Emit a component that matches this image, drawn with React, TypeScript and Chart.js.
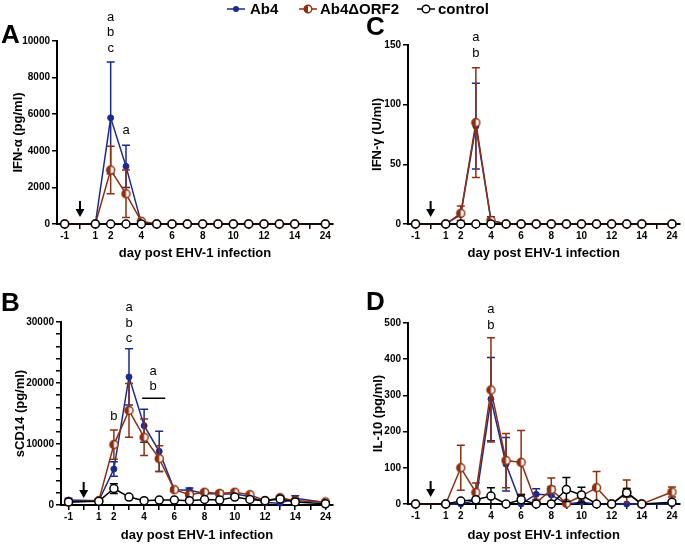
import React, { useEffect, useRef } from 'react';
import { Chart, registerables } from 'chart.js';

Chart.register(...registerables);

const FONT = '"Liberation Sans", Arial, Helvetica, sans-serif';
const BLUE = '#1b2a8e';
const BROWN = '#8e2f10';
const BLACK = '#000000';

// x categories (0 = inoculation arrow, 15 = axis gap before day 24)
const DAYS = ['-1', '0', '1', '2', '3', '4', '5', '6', '7', '8', '9', '10', '11', '12', '13', '14', '15', '24'];
const SHOWN_DAYS = ['-1', '1', '2', '4', '6', '8', '10', '12', '14', '24'];
const ARROW_DAY = '0';
const X_TITLE = 'day post EHV-1 infection';

// Panel A: IFN-alpha (pg/ml)
const A_AB4 = [0, null, 0, 5800, 3150, 50, 0, 0, 0, 0, 0, 0, 0, 0, 0, 0, null, 0];
const A_AB4_SEM = [0, null, 0, 3050, 1150, 0, 0, 0, 0, 0, 0, 0, 0, 0, 0, 0, null, 0];
const A_ORF2 = [0, null, 0, 2950, 1650, 150, 0, 0, 0, 0, 0, 0, 0, 0, 0, 0, null, 0];
const A_ORF2_SEM = [0, null, 0, 1300, 1300, 0, 0, 0, 0, 0, 0, 0, 0, 0, 0, 0, null, 0];
const A_CTRL = [0, null, 0, 0, 0, 0, 0, 0, 0, 0, 0, 0, 0, 0, 0, 0, null, 0];
const A_CTRL_SEM = [0, null, 0, 0, 0, 0, 0, 0, 0, 0, 0, 0, 0, 0, 0, 0, null, 0];
const A_NOTES = [
  { day: '2', value: 9600, text: ['a', 'b', 'c'] },
  { day: '3', value: 5100, text: ['a'] },
];

// Panel C: IFN-gamma (U/ml)
const C_AB4 = [0, null, 0, 8, 82, 3, 0, 0, 0, 0, 0, 0, 0, 0, 0, 0, null, 0];
const C_AB4_SEM = [0, null, 0, 0, 36, 3, 0, 0, 0, 0, 0, 0, 0, 0, 0, 0, null, 0];
const C_ORF2 = [0, null, 0, 9, 85, 3, 0, 0, 0, 0, 0, 0, 0, 0, 0, 0, null, 0];
const C_ORF2_SEM = [0, null, 0, 6, 46, 0, 0, 0, 0, 0, 0, 0, 0, 0, 0, 0, null, 0];
const C_CTRL = [0, null, 0, 0, 0, 0, 0, 0, 0, 0, 0, 0, 0, 0, 0, 0, null, 0];
const C_CTRL_SEM = [0, null, 0, 0, 0, 0, 0, 0, 0, 0, 0, 0, 0, 0, 0, 0, null, 0];
const C_NOTES = [{ day: '3', value: 143, text: ['a', 'b'] }];

// Panel B: sCD14 (pg/ml)
const B_AB4 = [800, null, 700, 5900, 21000, 13000, 8800, 2500, 2400, 1900, 1800, 1800, 1400, 400, 300, 1100, null, 400];
const B_AB4_SEM = [300, null, 0, 1200, 4600, 2700, 3300, 0, 400, 0, 300, 200, 0, 0, 0, 400, null, 0];
const B_ORF2 = [500, null, 700, 9900, 15500, 11100, 7600, 2500, 1700, 2100, 1900, 2100, 1700, 700, 1200, 700, null, 500];
const B_ORF2_SEM = [0, null, 0, 2400, 4400, 3000, 2100, 300, 300, 300, 400, 300, 200, 0, 200, 0, null, 0];
const B_CTRL = [500, null, 600, 2700, 1300, 700, 800, 800, 700, 900, 800, 1300, 900, 700, 1000, 500, null, 200];
const B_CTRL_SEM = [0, null, 0, 800, 0, 0, 0, 0, 0, 0, 0, 0, 0, 0, 0, 0, null, 0];
const B_NOTES = [
  { day: '3', value: 27300, text: ['a', 'b', 'c'] },
  { day: '2', value: 14600, text: ['b'] },
  { day: '4', value: 19400, text: ['a', 'b'], shift: 0.6 },
];
const B_BRACKETS = [{ from: '4', to: '5', value: 17500 }];

// Panel D: IL-10 (pg/ml)
const D_AB4 = [0, null, 0, 0, 10, 290, 110, 0, 27, 25, 0, 5, 0, 0, 0, 0, null, 0];
const D_AB4_SEM = [0, null, 0, 0, 0, 115, 74, 0, 15, 23, 0, 0, 0, 0, 0, 0, null, 0];
const D_ORF2 = [0, null, 0, 100, 32, 315, 120, 115, 3, 40, 2, 22, 45, 0, 33, 0, null, 33];
const D_ORF2_SEM = [0, null, 0, 62, 26, 144, 75, 88, 0, 32, 0, 0, 45, 0, 33, 0, null, 14];
const D_CTRL = [0, null, 0, 8, 12, 22, 0, 12, 0, 0, 40, 25, 0, 0, 31, 0, null, 5];
const D_CTRL_SEM = [0, null, 0, 0, 0, 23, 0, 13, 0, 0, 33, 21, 0, 0, 12, 0, null, 0];
const D_NOTES = [{ day: '4', value: 494, text: ['a', 'b'] }];

type Note = { day: string; value: number; text: string[]; shift?: number };
type Bracket = { from: string; to: string; value: number };

function halfCircle(color: string, r: number) {
  const c = document.createElement('canvas');
  const s = Math.ceil(r * 2 + 3);
  c.width = s;
  c.height = s;
  const ctx = c.getContext('2d')!;
  const cx = s / 2;
  const cy = s / 2;
  ctx.beginPath();
  ctx.arc(cx, cy, r, 0, Math.PI * 2);
  ctx.fillStyle = '#ffffff';
  ctx.fill();
  ctx.beginPath();
  ctx.moveTo(cx, cy - r);
  ctx.arc(cx, cy, r, -Math.PI / 2, Math.PI / 2, true);
  ctx.closePath();
  ctx.fillStyle = color;
  ctx.fill();
  ctx.beginPath();
  ctx.arc(cx, cy, r, 0, Math.PI * 2);
  ctx.lineWidth = 1.5;
  ctx.strokeStyle = color;
  ctx.stroke();
  return c;
}

function makeErrorBars(errs: (number | null)[][]) {
  return {
    id: 'errorBars',
    beforeDatasetDraw(chart: any, args: any) {
      const e = errs[args.index];
      if (!e) return;
      const ds = chart.data.datasets[args.index];
      const y = chart.scales.y;
      const ctx = chart.ctx;
      ctx.save();
      ctx.strokeStyle = ds.borderColor;
      ctx.lineWidth = 1.5;
      args.meta.data.forEach((pt: any, i: number) => {
        const v = ds.data[i];
        const d = e[i];
        if (v == null || !d) return;
        const top = y.getPixelForValue(v + d);
        const low = Math.max(0, v - d);
        const bot = y.getPixelForValue(low);
        ctx.beginPath();
        ctx.moveTo(pt.x, top);
        ctx.lineTo(pt.x, bot);
        ctx.moveTo(pt.x - 4, top);
        ctx.lineTo(pt.x + 4, top);
        if (low > 0) {
          ctx.moveTo(pt.x - 4, bot);
          ctx.lineTo(pt.x + 4, bot);
        }
        ctx.stroke();
      });
      ctx.restore();
    },
  };
}

function makeDecor(notes: Note[], brackets: Bracket[]) {
  return {
    id: 'decor',
    afterDraw(chart: any) {
      const { ctx, scales } = chart;
      const x = scales.x;
      const y = scales.y;
      const bottom = chart.chartArea.bottom;
      ctx.save();
      // inoculation arrow
      const ax = x.getPixelForValue(DAYS.indexOf(ARROW_DAY));
      ctx.strokeStyle = BLACK;
      ctx.fillStyle = BLACK;
      ctx.lineWidth = 2;
      ctx.beginPath();
      ctx.moveTo(ax, bottom - 23);
      ctx.lineTo(ax, bottom - 14);
      ctx.stroke();
      ctx.beginPath();
      ctx.moveTo(ax - 4.5, bottom - 15);
      ctx.lineTo(ax + 4.5, bottom - 15);
      ctx.lineTo(ax, bottom - 7);
      ctx.closePath();
      ctx.fill();
      // significance letters
      ctx.font = `13px ${FONT}`;
      ctx.textAlign = 'center';
      ctx.textBaseline = 'middle';
      notes.forEach((n) => {
        const px = x.getPixelForValue(DAYS.indexOf(n.day) + (n.shift || 0));
        const py = y.getPixelForValue(n.value);
        const k = n.text.length;
        n.text.forEach((t, i) => {
          ctx.fillText(t, px, py - (k - 1 - i) * 15.5);
        });
      });
      ctx.lineWidth = 1.5;
      brackets.forEach((b) => {
        const x1 = x.getPixelForValue(DAYS.indexOf(b.from)) - 2;
        const x2 = x.getPixelForValue(DAYS.indexOf(b.to)) + 6;
        const py = y.getPixelForValue(b.value);
        ctx.beginPath();
        ctx.moveTo(x1, py);
        ctx.lineTo(x2, py);
        ctx.stroke();
      });
      ctx.restore();
    },
  };
}

type PanelSpec = {
  ab4: (number | null)[];
  ab4Sem: (number | null)[];
  orf2: (number | null)[];
  orf2Sem: (number | null)[];
  ctrl: (number | null)[];
  ctrlSem: (number | null)[];
  yTitle: string;
  max: number;
  step: number;
  labelEvery: number;
  yWidth: number;
  yTitlePad: number;
  xHeight: number;
  xTitlePad: number;
  padTop: number;
  padRight: number;
  notes: Note[];
  brackets?: Bracket[];
};

function makeConfig(p: PanelSpec): any {
  const tickFont = { family: FONT, size: 10, weight: 'bold' as const };
  const titleFont = { family: FONT, size: 13, weight: 'bold' as const };
  const half = halfCircle(BROWN, 4);
  return {
    type: 'line',
    data: {
      labels: DAYS,
      datasets: [
        {
          label: 'Ab4',
          data: p.ab4,
          borderColor: BLUE,
          backgroundColor: BLUE,
          pointBackgroundColor: BLUE,
          pointBorderColor: BLUE,
          pointRadius: 3,
          pointBorderWidth: 1,
          borderWidth: 1.5,
          order: 3,
          clip: false,
        },
        {
          label: 'Ab4ΔORF2',
          data: p.orf2,
          borderColor: BROWN,
          backgroundColor: BROWN,
          pointStyle: half,
          pointRadius: 4,
          borderWidth: 1.5,
          order: 2,
          clip: false,
        },
        {
          label: 'control',
          data: p.ctrl,
          borderColor: BLACK,
          backgroundColor: '#ffffff',
          pointBackgroundColor: '#ffffff',
          pointBorderColor: BLACK,
          pointRadius: 4,
          pointBorderWidth: 1.5,
          borderWidth: 1.5,
          order: 1,
          clip: false,
        },
      ],
    },
    options: {
      animation: false,
      responsive: false,
      spanGaps: true,
      events: [],
      layout: { padding: { top: p.padTop, right: p.padRight, left: 0, bottom: 0 } },
      plugins: {
        legend: { display: false },
        tooltip: { enabled: false },
      },
      scales: {
        x: {
          type: 'category',
          offset: true,
          grid: { display: true, drawOnChartArea: false, drawTicks: true, tickLength: 5, color: BLACK, lineWidth: 1.5 },
          border: { display: true, color: BLACK, width: 2 },
          ticks: {
            autoSkip: false,
            maxRotation: 0,
            padding: 1,
            color: BLACK,
            font: tickFont,
            callback: (_v: any, i: number) => (SHOWN_DAYS.includes(DAYS[i]) ? DAYS[i] : ''),
          },
          title: { display: true, text: X_TITLE, color: BLACK, font: titleFont, padding: { top: 0, bottom: p.xTitlePad } },
          afterFit: (s: any) => {
            s.height = p.xHeight;
          },
        },
        y: {
          min: 0,
          max: p.max,
          grid: { display: true, drawOnChartArea: false, drawTicks: true, tickLength: 5, color: BLACK, lineWidth: 1.5 },
          border: { display: true, color: BLACK, width: 2 },
          ticks: {
            stepSize: p.step,
            autoSkip: false,
            padding: 2,
            color: BLACK,
            font: tickFont,
            callback: (v: any) => (Math.round(v) % p.labelEvery === 0 ? String(v) : ''),
          },
          title: { display: true, text: p.yTitle, color: BLACK, font: titleFont, padding: { top: p.yTitlePad, bottom: 0 } },
          afterFit: (s: any) => {
            s.width = p.yWidth;
          },
        },
      },
    },
    plugins: [makeErrorBars([p.ab4Sem, p.orf2Sem, p.ctrlSem]), makeDecor(p.notes, p.brackets || [])],
  };
}

function Panel(props: { left: number; top: number; width: number; height: number; spec: PanelSpec }) {
  const ref = useRef<HTMLCanvasElement | null>(null);
  useEffect(() => {
    const chart = new Chart(ref.current as HTMLCanvasElement, makeConfig(props.spec));
    return () => chart.destroy();
  }, []);
  return (
    <div style={{ position: 'absolute', left: props.left, top: props.top, width: props.width, height: props.height }}>
      <canvas ref={ref} width={props.width} height={props.height} style={{ display: 'block', width: props.width, height: props.height }} />
    </div>
  );
}

const letterStyle = (left: number, top: number): React.CSSProperties => ({
  position: 'absolute',
  left,
  top,
  fontFamily: FONT,
  fontWeight: 'bold',
  fontSize: 26,
  lineHeight: '26px',
  color: BLACK,
});

const legendText = (left: number): React.CSSProperties => ({
  position: 'absolute',
  left,
  top: 1,
  fontFamily: FONT,
  fontWeight: 'bold',
  fontSize: 15,
  lineHeight: '16px',
  color: BLACK,
  whiteSpace: 'nowrap',
});

function Marker({ left, kind }: { left: number; kind: 'ab4' | 'orf2' | 'ctrl' }) {
  const color = kind === 'ab4' ? BLUE : kind === 'orf2' ? BROWN : BLACK;
  return (
    <svg style={{ position: 'absolute', left, top: 3 }} width={20} height={12}>
      <line x1={1} y1={6} x2={19} y2={6} stroke={color} strokeWidth={1.5} />
      {kind === 'ab4' && <circle cx={10} cy={6} r={3} fill={BLUE} />}
      {kind === 'orf2' && (
        <g>
          <circle cx={10} cy={6} r={3.8} fill="#ffffff" />
          <path d="M10 2.2 A3.8 3.8 0 0 0 10 9.8 Z" fill={BROWN} />
          <circle cx={10} cy={6} r={3.8} fill="none" stroke={BROWN} strokeWidth={1.4} />
        </g>
      )}
      {kind === 'ctrl' && <circle cx={10} cy={6} r={3.8} fill="#ffffff" stroke={BLACK} strokeWidth={1.4} />}
    </svg>
  );
}

const PANEL_A: PanelSpec = {
  ab4: A_AB4, ab4Sem: A_AB4_SEM, orf2: A_ORF2, orf2Sem: A_ORF2_SEM, ctrl: A_CTRL, ctrlSem: A_CTRL_SEM,
  yTitle: 'IFN-α (pg/ml)', max: 10000, step: 2000, labelEvery: 2000,
  yWidth: 57, yTitlePad: 11, xHeight: 46, xTitlePad: 9, padTop: 41, padRight: 7, notes: A_NOTES,
};
const PANEL_C: PanelSpec = {
  ab4: C_AB4, ab4Sem: C_AB4_SEM, orf2: C_ORF2, orf2Sem: C_ORF2_SEM, ctrl: C_CTRL, ctrlSem: C_CTRL_SEM,
  yTitle: 'IFN-γ (U/ml)', max: 150, step: 50, labelEvery: 50,
  yWidth: 68, yTitlePad: 30, xHeight: 46, xTitlePad: 9, padTop: 45, padRight: 5, notes: C_NOTES,
};
const PANEL_B: PanelSpec = {
  ab4: B_AB4, ab4Sem: B_AB4_SEM, orf2: B_ORF2, orf2Sem: B_ORF2_SEM, ctrl: B_CTRL, ctrlSem: B_CTRL_SEM,
  yTitle: 'sCD14 (pg/ml)', max: 30000, step: 2000, labelEvery: 10000,
  yWidth: 61, yTitlePad: 13, xHeight: 40, xTitlePad: 2, padTop: 52, padRight: 7, notes: B_NOTES, brackets: B_BRACKETS,
};
const PANEL_D: PanelSpec = {
  ab4: D_AB4, ab4Sem: D_AB4_SEM, orf2: D_ORF2, orf2Sem: D_ORF2_SEM, ctrl: D_CTRL, ctrlSem: D_CTRL_SEM,
  yTitle: 'IL-10 (pg/ml)', max: 500, step: 100, labelEvery: 100,
  yWidth: 68, yTitlePad: 31, xHeight: 41, xTitlePad: 2, padTop: 53, padRight: 5, notes: D_NOTES,
};

export default function App() {
  return (
    <div style={{ position: 'absolute', left: 0, top: 0, width: 685, height: 545, background: '#ffffff', overflow: 'hidden' }}>
      <Panel left={0} top={0} width={340} height={270} spec={PANEL_A} />
      <Panel left={340} top={0} width={345} height={270} spec={PANEL_C} />
      <Panel left={0} top={270} width={340} height={275} spec={PANEL_B} />
      <Panel left={340} top={270} width={345} height={275} spec={PANEL_D} />
      <div style={letterStyle(1, 21)}>A</div>
      <div style={letterStyle(366, 13)}>C</div>
      <div style={letterStyle(1, 289)}>B</div>
      <div style={letterStyle(366, 288)}>D</div>
      <Marker left={226} kind="ab4" />
      <span style={legendText(250)}>Ab4</span>
      <Marker left={298} kind="orf2" />
      <span style={legendText(320)}>Ab4ΔORF2</span>
      <Marker left={416} kind="ctrl" />
      <span style={legendText(438)}>control</span>
    </div>
  );
}
